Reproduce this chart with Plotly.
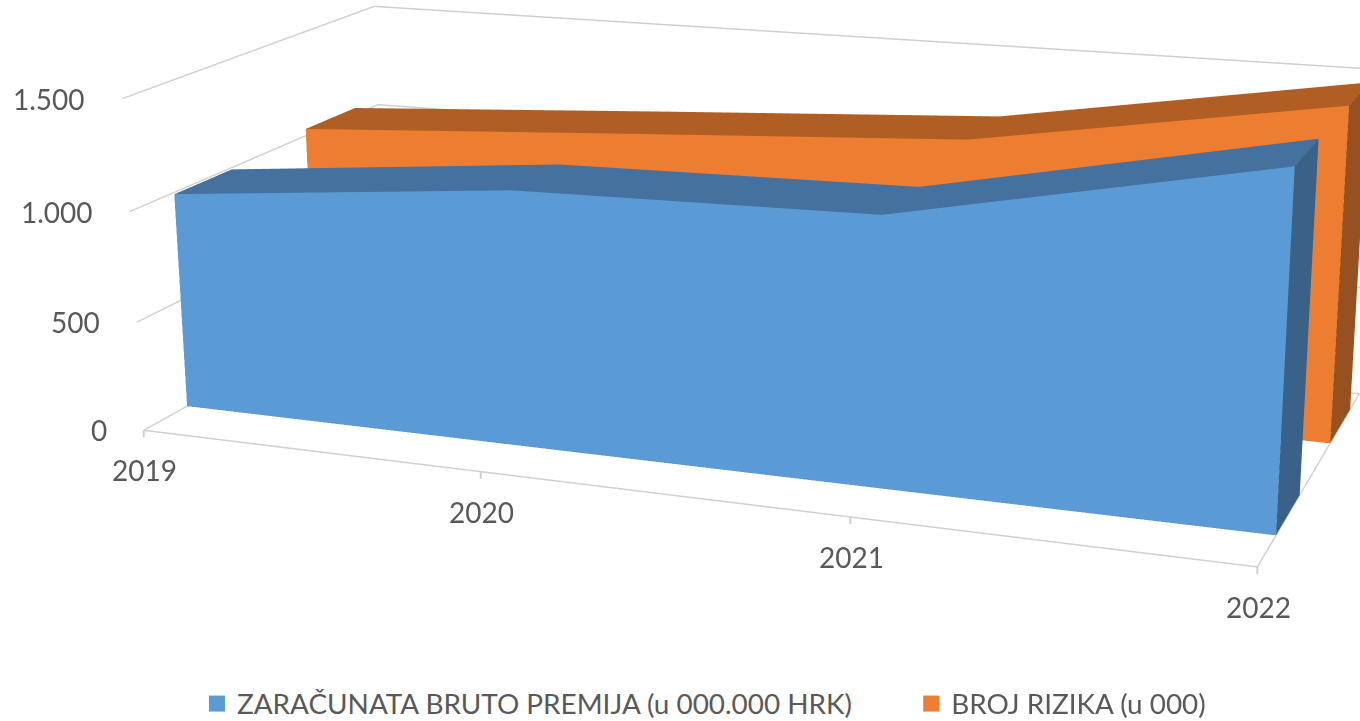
import plotly.graph_objects as go

years = ["2019", "2020", "2021", "2022"]
zbp = [992, 1142, 1172, 1500]
rizik = [1033, 1130, 1223, 1490]
names = ["ZARAČUNATA BRUTO PREMIJA (u 000.000 HRK)", "BROJ RIZIKA (u 000)"]
ytick = [0, 500, 1000, 1500]
ylab = ["0", "500", "1.000", "1.500"]

GRID = "#CFCFCF"; TXT = "#595959"; FONT = "Lato"
X = list(range(len(years)))
Y_RANGE = [-0.513, 1.411]
HALF = 0.208

def prism(vals, pos, front, top, side, name):
    n = len(vals)
    xs, ys, zs = [], [], []
    for y0 in (pos - HALF, pos + HALF):
        for x, v in zip(X, vals):
            xs += [x, x]; ys += [y0, y0]; zs += [0, v]
    def idx(back, i, up):
        return (n * 2 if back else 0) + 2 * i + (1 if up else 0)
    I, J, K, C = [], [], [], []
    def quad(a, b, c, d, col):
        I.extend([a, a]); J.extend([b, c]); K.extend([c, d]); C.extend([col, col])
    for i in range(n - 1):
        quad(idx(0, i, 0), idx(0, i + 1, 0), idx(0, i + 1, 1), idx(0, i, 1), front)
        quad(idx(0, i, 1), idx(0, i + 1, 1), idx(1, i + 1, 1), idx(1, i, 1), top)
    quad(idx(0, n - 1, 0), idx(1, n - 1, 0), idx(1, n - 1, 1), idx(0, n - 1, 1), side)
    return go.Mesh3d(x=xs, y=ys, z=zs, i=I, j=J, k=K, facecolor=C, flatshading=True,
                     lighting=dict(ambient=1, diffuse=0, specular=0, roughness=1, fresnel=0),
                     hoverinfo="skip", showlegend=False, name=name)

fig = go.Figure()
fig.add_trace(prism(rizik, 1, "#ED7D31", "#B05E24", "#97501F", names[1]))
fig.add_trace(prism(zbp, 0, "#5B9BD5", "#44719D", "#3A6288", names[0]))
for nm, col, lg in zip(names, ["#5B9BD5", "#ED7D31"], ["legend", "legend2"]):
    fig.add_trace(go.Scatter3d(x=[None], y=[None], z=[None], mode="markers", name=nm, legend=lg,
                               marker=dict(symbol="square", size=16, color=col)))

annots = []
for x, lab in zip(X, years):
    annots.append(dict(x=x, y=Y_RANGE[0], z=0, text=lab, showarrow=False, yshift=-40, xshift=1,
                       font=dict(family=FONT, size=28, color=TXT)))
    annots.append(dict(x=x, y=Y_RANGE[0], z=0, text=" ", showarrow=True, arrowhead=0, arrowwidth=2,
                       arrowcolor=GRID, ax=0, ay=9, standoff=0, font=dict(size=1)))
for v, lab in zip(ytick, ylab):
    annots.append(dict(x=0, y=Y_RANGE[0], z=v, text=lab, showarrow=False, xanchor="right", xshift=-35,
                       font=dict(family=FONT, size=28, color=TXT)))

axis = dict(showbackground=False, showspikes=False, title="", showticklabels=False, zeroline=False)
lg_font = dict(size=27.9, color=TXT)
fig.update_layout(
    width=1360, height=721, margin=dict(l=0, r=0, t=0, b=0, autoexpand=False), paper_bgcolor="white",
    font=dict(family=FONT, color=TXT, size=28),
    showlegend=True,
    legend=dict(x=0.1448, xanchor="left", y=-0.011, yanchor="bottom", font=lg_font),
    legend2=dict(x=0.6700, xanchor="left", y=-0.011, yanchor="bottom", font=lg_font),
    scene=dict(
        domain=dict(x=[0, 1], y=[0, 1]),
        aspectmode="manual", aspectratio=dict(x=1, y=0.476, z=0.3228),
        xaxis=dict(axis, range=[0, 3], tickvals=X, showgrid=False, showline=True, linecolor=GRID, linewidth=3, ticks=""),
        yaxis=dict(axis, range=Y_RANGE, showgrid=False, showline=True, linecolor=GRID, linewidth=3, ticks=""),
        zaxis=dict(axis, range=[0, 1600], tickvals=ytick, showgrid=True, gridcolor=GRID, gridwidth=3, showline=False, ticks=""),
        camera=dict(up=dict(x=-0.098, y=0.273, z=0.957),
                    center=dict(x=-0.0558, y=-0.0527, z=-0.1034),
                    eye=dict(x=0.8942, y=-2.4317, z=0.6726)),
        annotations=annots,
    ),
)
# The reference uses a long lens; plotly's 3D scene defaults to a 45 degree one.
lens = """
document.body.style.margin = '0';
var gd = document.getElementById('{plot_id}');
(function fix(){
  var s = gd._fullLayout && gd._fullLayout.scene && gd._fullLayout.scene._scene;
  if (s && s.glplot) { s.glplot.fovy = 0.2394; s.glplot.redraw(); }
  else setTimeout(fix, 10);
})();
"""
fig.write_html("out.html", config=dict(displayModeBar=False), post_script=lens)
